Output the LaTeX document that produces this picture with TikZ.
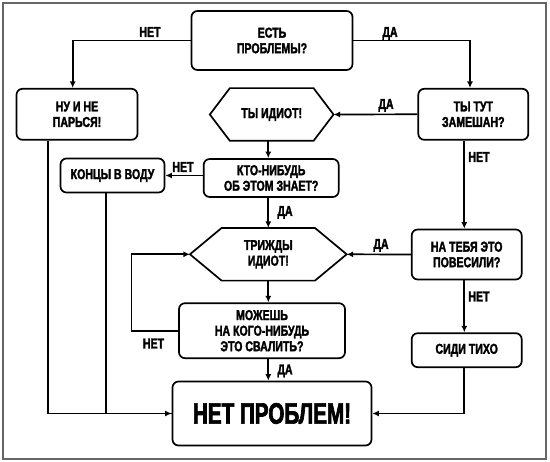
\documentclass[tikz,border=0pt]{standalone}
\usepackage{fontspec}
\setmainfont{Liberation Sans}[FakeStretch=0.74,FakeBold=2]
\newfontfamily\bigfont{Liberation Sans}[FakeStretch=0.7,FakeBold=2.2]
\usetikzlibrary{arrows.meta}

\begin{document}
\begin{tikzpicture}[x=1pt,y=-1pt,line width=1.7pt,
    >={Latex[length=6.5pt,width=6pt]},
    box/.style={draw,rounded corners=6pt,align=center,inner sep=0pt,
      font=\fontsize{14.3}{15.6}\selectfont\bfseries},
    hexnode/.style={align=center,inner sep=0pt,
      font=\fontsize{14.3}{15.6}\selectfont\bfseries},
    answer/.style={inner sep=0pt,text height=9.8pt,text depth=0pt,
      font=\fontsize{14.3}{15.6}\selectfont\bfseries}]
  \useasboundingbox (0,0) rectangle (550,462);
  \fill[white] (0,0) rectangle (550,462);
  \draw[line width=2pt,black!60] (3,3) rectangle (546,459);

  \coordinate (spine) at (268.3,0);
  \coordinate (rspine) at (464.3,0);

  \node[box,minimum width=161pt,minimum height=59pt] (problems) at (272,40.5) {ЕСТЬ\\ПРОБЛЕМЫ?};
  \node[box,minimum width=121pt,minimum height=51pt] (relax) at (77,114.3) {НУ И НЕ\\ПАРЬСЯ!};
  \node[hexnode,minimum width=122pt,minimum height=51pt] (idiot) at (271.7,114.5) {ТЫ ИДИОТ!};
  \node[box,minimum width=110pt,minimum height=51pt] (involved) at (473.3,114.3) {ТЫ ТУТ\\ЗАМЕШАН?};
  \node[box,minimum width=104pt,minimum height=34pt] (hide) at (112.5,175.5) {КОНЦЫ В ВОДУ};
  \node[box,minimum width=135pt,minimum height=38pt] (knows) at (271.2,178) {КТО-НИБУДЬ\\ОБ ЭТОМ ЗНАЕТ?};
  \node[hexnode,minimum width=155pt,minimum height=51pt] (thrice) at (268.3,254.3) {ТРИЖДЫ\\ИДИОТ!};
  \node[box,minimum width=110pt,minimum height=50pt] (blamed) at (466.7,254.5) {НА ТЕБЯ ЭТО\\ПОВЕСИЛИ?};
  \node[box,minimum width=166pt,minimum height=55pt] (shift) at (262,330.7) {МОЖЕШЬ\\НА КОГО-НИБУДЬ\\ЭТО СВАЛИТЬ?};
  \node[box,minimum width=110pt,minimum height=34pt] (quiet) at (466.7,350.2) {СИДИ ТИХО};
  \node[box,minimum width=199pt,minimum height=64pt,
    font=\bigfont\fontsize{29.5}{32}\selectfont\bfseries] (noproblem) at (272,413.5) {НЕТ ПРОБЛЕМ!};

  \foreach \hex/\cut in {idiot/20,thrice/31.7}
    \draw (\hex.west) -- ([xshift=\cut pt]\hex.north west) -- ([xshift=-\cut pt]\hex.north east)
      -- (\hex.east) -- ([xshift=-\cut pt]\hex.south east) -- ([xshift=\cut pt]\hex.south west) -- cycle;

  \draw[->] (problems.west) -| ([xshift=-4.3pt]relax.north);
  \draw[->] (problems.east) -| ([xshift=-3.3pt]involved.north);
  \draw[->] (involved.west) -- (idiot.east);
  \draw[->] (idiot.south -| spine) -- (knows.north -| spine);
  \draw[->] (hide.east -| knows.west) -- (hide.east);
  \draw[->] (knows.south -| spine) -- (thrice.north);
  \draw[->] (involved.south -| rspine) -- (blamed.north -| rspine);
  \draw[->] (blamed.west) -- (thrice.east);
  \draw[->] (blamed.south -| rspine) -- (quiet.north -| rspine);
  \draw[->] (thrice.south) -- (shift.north -| spine);
  \draw[->] (shift.west) -- ++(-46.6,0) |- (thrice.west);
  \draw[->] (shift.south -| spine) -- (noproblem.north -| spine);
  \draw[->] ([xshift=-28.7pt]relax.south) |- (noproblem.west);
  \draw ([xshift=-6.5pt]hide.south) |- (noproblem.west);
  \draw[->] (quiet.south -| rspine) |- (noproblem.east);

  \node[answer] (noRelax) at (150,32) {НЕТ};
  \node[answer] (yesInvolved) at (390,32) {ДА};
  \node[answer] (yesIdiot) at (386,104) {ДА};
  \node[answer] (noInvolved) at (479,157) {НЕТ};
  \node[answer] (noKnows) at (183,167) {НЕТ};
  \node[answer] (yesKnows) at (285,211) {ДА};
  \node[answer] (yesBlamed) at (381,244) {ДА};
  \node[answer] (noBlamed) at (479,296.5) {НЕТ};
  \node[answer] (noShift) at (153.5,343.5) {НЕТ};
  \node[answer] (yesShift) at (285,369.5) {ДА};
\end{tikzpicture}
\end{document}
